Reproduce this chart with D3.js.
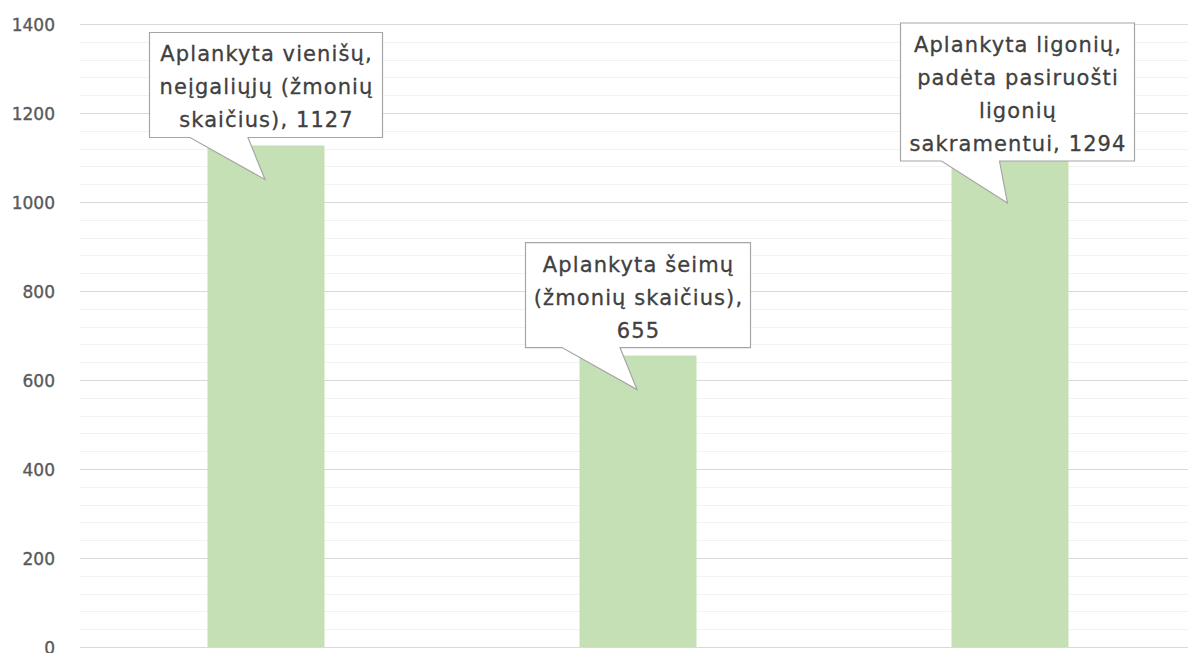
<!DOCTYPE html>
<html>
<head>
<meta charset="utf-8">
<script src="https://cdn.jsdelivr.net/npm/d3@7"></script>
<style>
  html, body { margin: 0; padding: 0; background: #ffffff; }
  svg { display: block; }
</style>
</head>
<body>
<svg id="chart" width="1188" height="653"></svg>
<script>
// ---- data ----
const categories = [
  "Aplankyta vienišų, neįgaliųjų (žmonių skaičius)",
  "Aplankyta šeimų (žmonių skaičius)",
  "Aplankyta ligonių, padėta pasiruošti ligonių sakramentui"
];
const values = [1127, 655, 1294];
const labelLines = [
  ["Aplankyta vienišų,", "neįgaliųjų (žmonių", "skaičius), 1127"],
  ["Aplankyta šeimų", "(žmonių skaičius),", "655"],
  ["Aplankyta ligonių,", "padėta pasiruošti", "ligonių", "sakramentui, 1294"]
];
const yTicks = [0, 200, 400, 600, 800, 1000, 1200, 1400];
const yMinorStep = 40;

// ---- layout ----
const W = 1188, H = 653;
const plot = { left: 80, right: 1196, top: 24, bottom: 647 };
const boxW = [233, 225, 234];
const boxDx = [0, 0, 7.5];
const tipDx = [-1, -1, -10];
const lineH = 33;

const svg = d3.select("#chart");

const x = d3.scaleBand()
  .domain(categories)
  .range([plot.left, plot.right])
  .paddingInner(0.6855)
  .paddingOuter(0.6855 / 2);

const y = d3.scaleLinear()
  .domain([0, 1400])
  .range([plot.bottom, plot.top]);

// minor gridlines
const minor = d3.range(0, 1400 + 1, yMinorStep).filter(v => v % 200 !== 0);
svg.append("g").selectAll("line").data(minor).join("line")
  .attr("x1", plot.left).attr("x2", W)
  .attr("y1", d => Math.round(y(d)) + 0.5).attr("y2", d => Math.round(y(d)) + 0.5)
  .attr("stroke", "#F2F2F2").attr("stroke-width", 1);

// major gridlines via axis
const yAxis = d3.axisLeft(y).tickValues(yTicks).tickSize(-(W - plot.left)).tickPadding(25).tickFormat(d3.format("d"));
const gy = svg.append("g").attr("transform", `translate(${plot.left},0)`).call(yAxis);
gy.select(".domain").remove();
gy.selectAll(".tick line").attr("stroke", "#D9D9D9").attr("stroke-width", 1);
gy.selectAll(".tick text")
  .attr("fill", "#595959")
  .attr("stroke", "#595959").attr("stroke-width", 0.35)
  .style("font-family", "'DejaVu Sans', sans-serif")
  .style("font-size", "17px")
  .attr("dy", "0.36em");

// bars
svg.append("g").selectAll("rect").data(values).join("rect")
  .attr("x", (d, i) => x(categories[i]))
  .attr("y", d => y(d))
  .attr("width", x.bandwidth())
  .attr("height", d => y(0) - y(d))
  .attr("fill", "#C5E0B4");

// callouts
const g = svg.append("g");
values.forEach((v, i) => {
  const lines = labelLines[i];
  const bh = lines.length * lineH + 6;
  const cx = x(categories[i]) + x.bandwidth() / 2 + boxDx[i];
  const top = Math.max(plot.top - 1, y(v) - 8 - bh);
  const bottom = top + bh;
  const left = cx - boxW[i] / 2, right = cx + boxW[i] / 2;
  const tipX = cx + tipDx[i], tipY = bottom + 42;
  const bl = cx - 76, br = cx - 18;
  const path = `M${left},${top} H${right} V${bottom} H${br} L${tipX},${tipY} L${bl},${bottom} H${left} Z`;
  g.append("path").attr("d", path)
    .attr("fill", "#ffffff").attr("stroke", "#A6A6A6").attr("stroke-width", 1.2)
    .attr("stroke-linejoin", "miter");
  const t = g.append("text")
    .attr("text-anchor", "middle")
    .attr("fill", "#404040")
    .attr("stroke", "#404040").attr("stroke-width", 0.3)
    .style("font-family", "'DejaVu Sans', sans-serif")
    .style("font-size", "21px")
    .style("letter-spacing", "1.1px");
  lines.forEach((ln, k) => {
    t.append("tspan").attr("x", cx + 0.5).attr("y", top + 29 + k * lineH).text(ln);
  });
});
</script>
</body>
</html>
